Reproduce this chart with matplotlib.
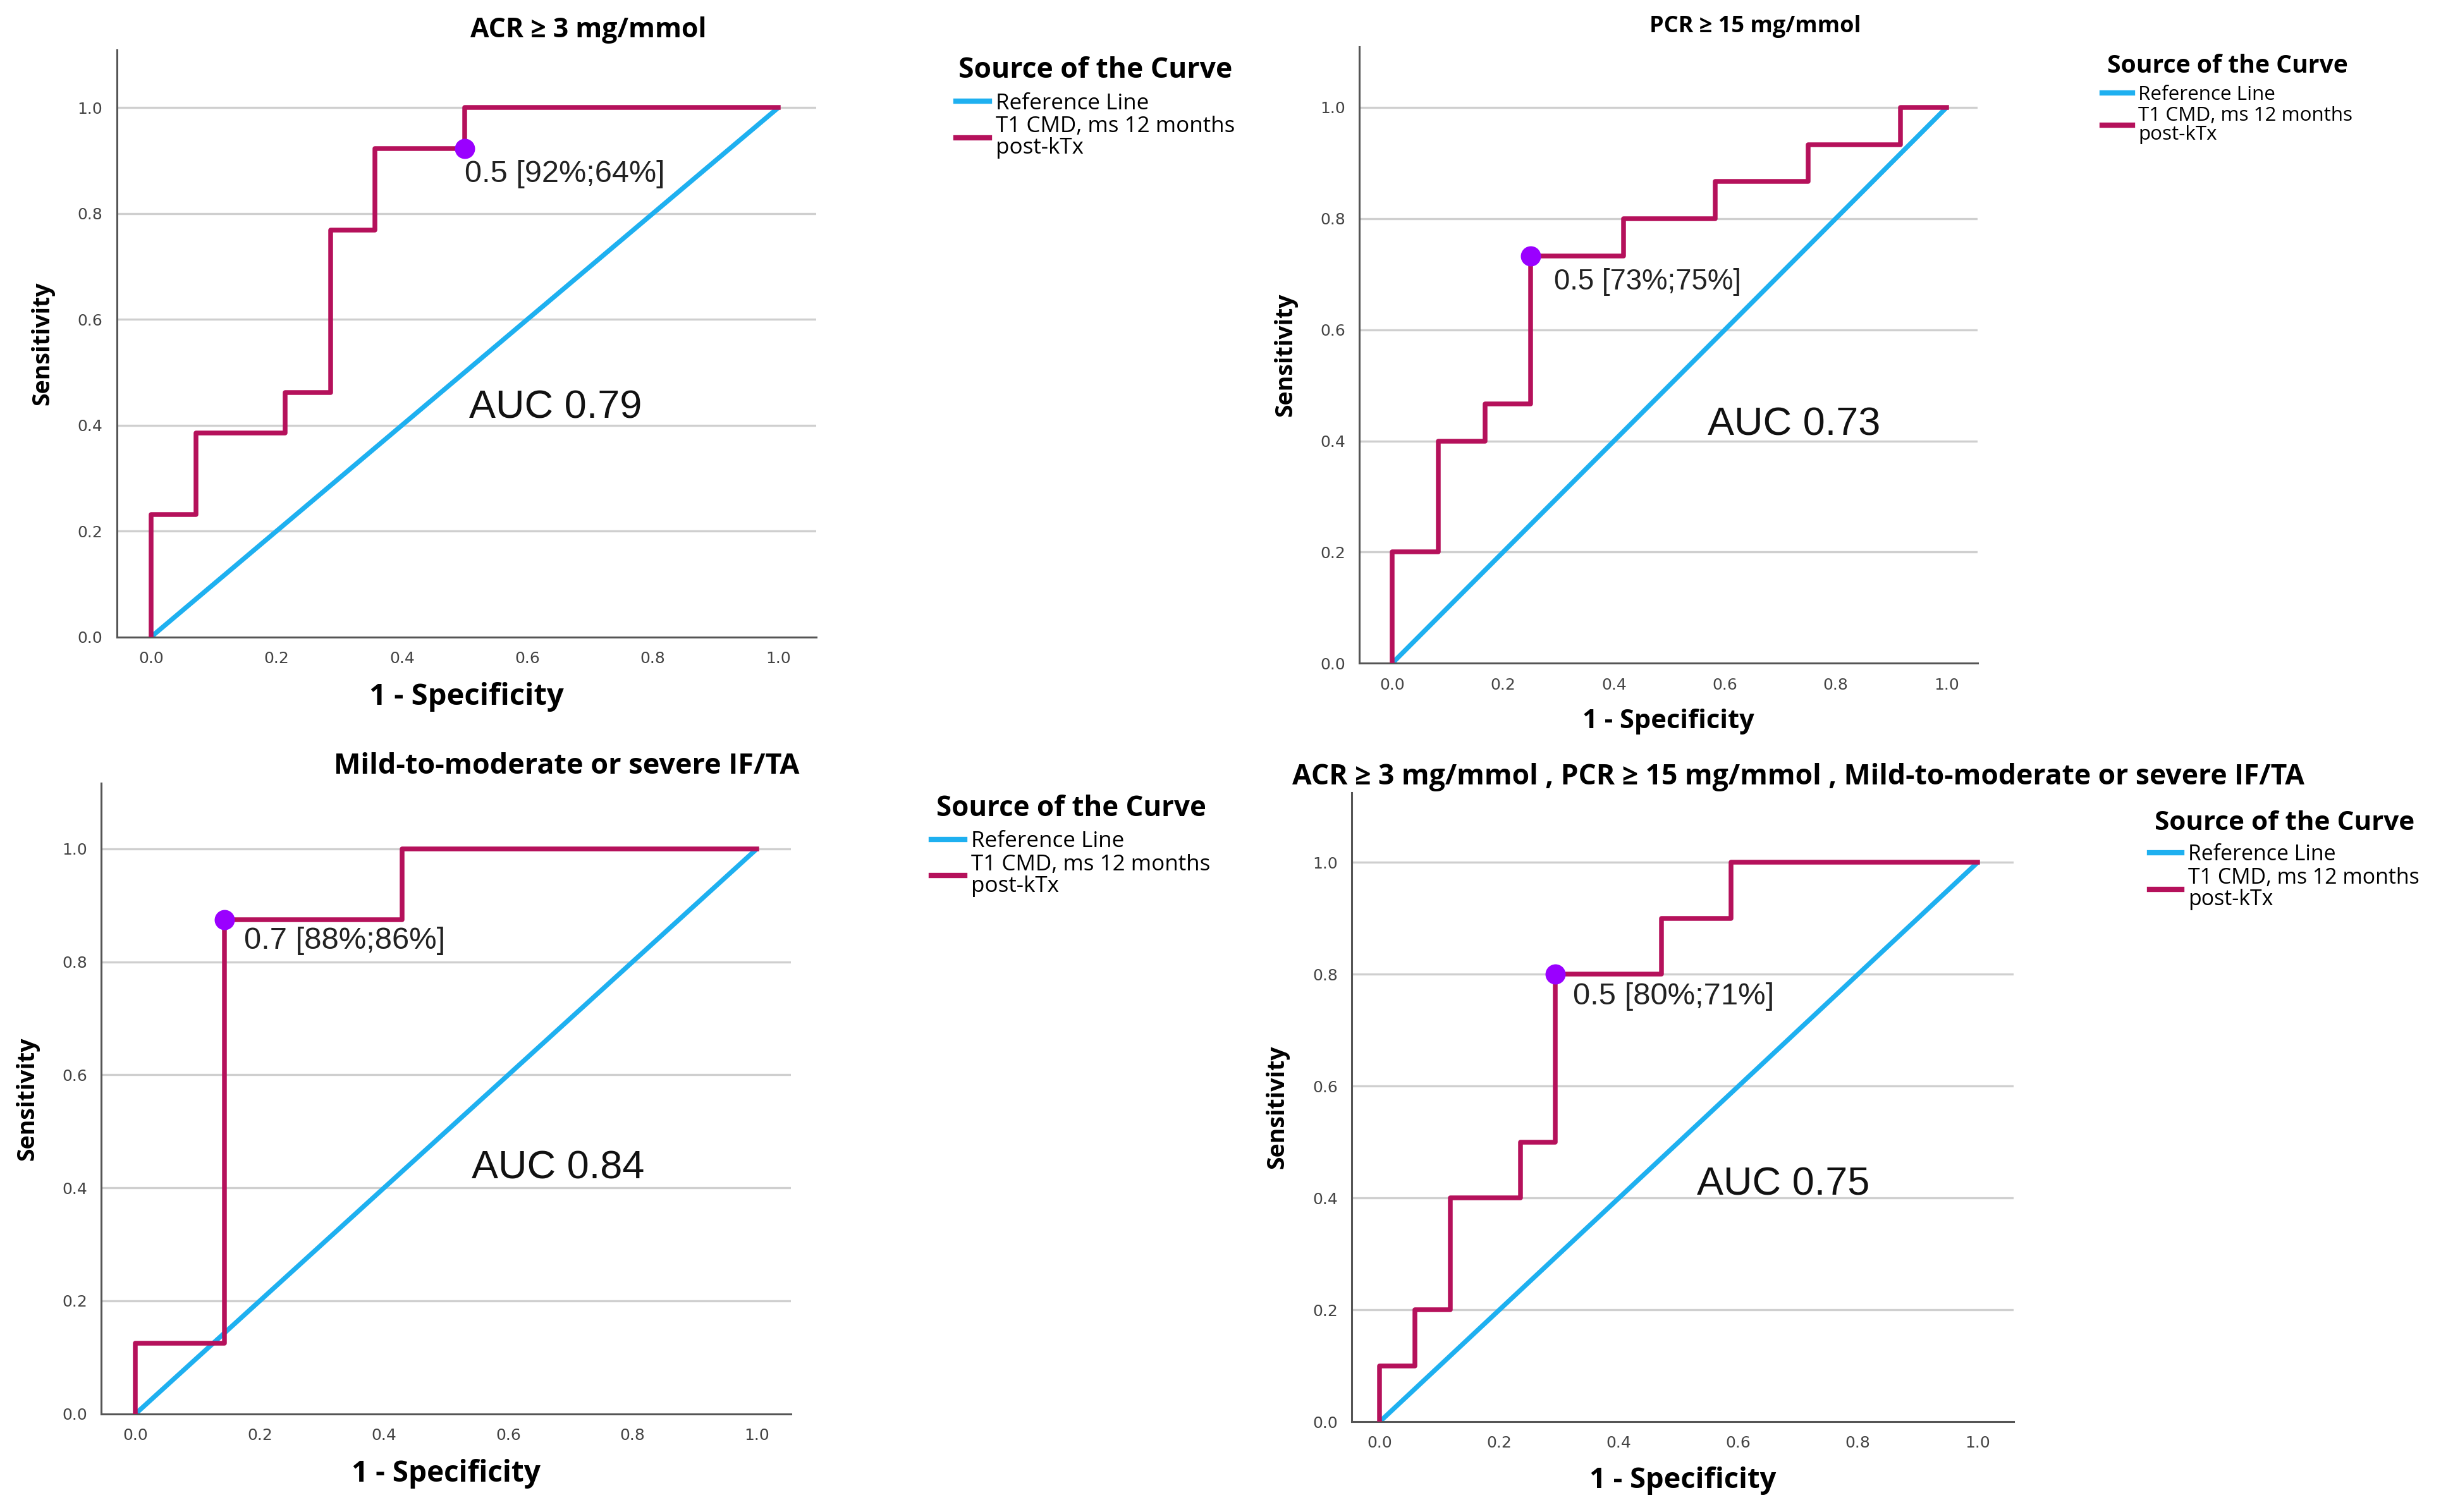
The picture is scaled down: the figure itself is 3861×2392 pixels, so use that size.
import numpy as np
import matplotlib.pyplot as plt
from matplotlib.lines import Line2D

# ---- data ----
titles = ["ACR \u2265 3 mg/mmol",
          "PCR \u2265 15 mg/mmol",
          "Mild-to-moderate or severe IF/TA",
          "ACR \u2265 3 mg/mmol , PCR \u2265 15 mg/mmol , Mild-to-moderate or severe IF/TA"]

fpr_acr = [0.0, 0.0, 0.071, 0.071, 0.214, 0.214, 0.286, 0.286, 0.357, 0.357, 0.5, 0.5, 1.0]
tpr_acr = [0.0, 0.231, 0.231, 0.385, 0.385, 0.462, 0.462, 0.769, 0.769, 0.923, 0.923, 1.0, 1.0]

fpr_pcr = [0.0, 0.0, 0.083, 0.083, 0.167, 0.167, 0.25, 0.25, 0.417, 0.417,
           0.583, 0.583, 0.75, 0.75, 0.917, 0.917, 1.0]
tpr_pcr = [0.0, 0.2, 0.2, 0.4, 0.4, 0.467, 0.467, 0.733, 0.733, 0.8,
           0.8, 0.867, 0.867, 0.933, 0.933, 1.0, 1.0]

fpr_ifta = [0.0, 0.0, 0.143, 0.143, 0.429, 0.429, 1.0]
tpr_ifta = [0.0, 0.125, 0.125, 0.875, 0.875, 1.0, 1.0]

fpr_comb = [0.0, 0.0, 0.059, 0.059, 0.118, 0.118, 0.235, 0.235, 0.294, 0.294,
            0.471, 0.471, 0.588, 0.588, 1.0]
tpr_comb = [0.0, 0.1, 0.1, 0.2, 0.2, 0.4, 0.4, 0.5, 0.5, 0.8,
            0.8, 0.9, 0.9, 1.0, 1.0]

cut_x = [0.5, 0.25, 0.143, 0.294]
cut_y = [0.923, 0.733, 0.875, 0.8]
cut_labels = ["0.5 [92%;64%]", "0.5 [73%;75%]", "0.7 [88%;86%]", "0.5 [80%;71%]"]
auc_labels = ["AUC 0.79", "AUC 0.73", "AUC 0.84", "AUC 0.75"]

fprs = [fpr_acr, fpr_pcr, fpr_ifta, fpr_comb]
tprs = [tpr_acr, tpr_pcr, tpr_ifta, tpr_comb]

# ---- layout (figure fractions) ----
ax_rects = [[0.0478, 0.5788, 0.2864, 0.3882],
            [0.5568, 0.5613, 0.2532, 0.4078],
            [0.0415, 0.0649, 0.2825, 0.4171],
            [0.5536, 0.0597, 0.2710, 0.4161]]
xlims = [(-0.055, 1.06), (-0.059, 1.056), (-0.055, 1.055), (-0.047, 1.06)]
ylims = [(0, 1.109), (0, 1.109), (0, 1.116), (0, 1.125)]
title_pos = [(0.241, 0.980), (0.719, 0.9825), (0.232, 0.4933), (0.7366, 0.486)]
legend_pos = [(0.387, 0.970), (0.857, 0.971), (0.377, 0.482), (0.876, 0.471)]
cut_text_pos = [(0.5, 0.874), (0.292, 0.686), (0.175, 0.837), (0.323, 0.76)]
auc_pos = [(0.645, 0.433), (0.725, 0.429), (0.68, 0.435), (0.675, 0.424)]

# per-panel font sizes (panel 2 is narrower in the original)
title_fs = [15.4, 13.0, 16.2, 16.0]
xlabel_fs = [17.0, 15.0, 16.5, 16.3]
leg_title_fs = [16.0, 14.1, 15.8, 15.2]
leg_fs = [12.6, 11.3, 12.6, 12.2]
cut_fs = [17.5, 16.4, 17.6, 17.6]

ROC_COLOR = '#B5115B'
REF_COLOR = '#1EB0F0'
DOT_COLOR = '#9A00FF'
SPSS_FONT = ['Open Sans', 'DejaVu Sans']

fig = plt.figure(figsize=(19.31, 11.96), dpi=200)

for i in range(4):
    ax = fig.add_axes(ax_rects[i])
    ax.set_xlim(*xlims[i])
    ax.set_ylim(*ylims[i])
    for s in ['top', 'right']:
        ax.spines[s].set_visible(False)
    for s in ['left', 'bottom']:
        ax.spines[s].set_color('#555555')
        ax.spines[s].set_linewidth(1.1)
    ax.set_yticks([0.0, 0.2, 0.4, 0.6, 0.8, 1.0])
    ax.set_xticks([0.0, 0.2, 0.4, 0.6, 0.8, 1.0])
    ax.set_xticklabels([f"{v:.1f}" for v in ax.get_xticks()])
    ax.set_yticklabels([f"{v:.1f}" for v in ax.get_yticks()])
    ax.tick_params(length=0, labelsize=9, labelcolor='#444444', pad=8)
    for y in [0.2, 0.4, 0.6, 0.8, 1.0]:
        ax.axhline(y, color='#CFCFCF', lw=1.2, zorder=0)

    ax.plot([0, 1], [0, 1], color=REF_COLOR, lw=2.7, label='Reference Line',
            solid_capstyle='butt', zorder=2)
    ax.plot(fprs[i], tprs[i], color=ROC_COLOR, lw=2.7,
            label='T1 CMD, ms 12 months\npost-kTx', zorder=3)
    ax.plot(cut_x[i], cut_y[i], 'o', color=DOT_COLOR, ms=10.5, zorder=4)

    ax.text(*cut_text_pos[i], cut_labels[i], fontsize=cut_fs[i], va='center', ha='left',
            family='Liberation Sans', color='#222222')
    ax.text(*auc_pos[i], auc_labels[i], fontsize=22.7, va='center', ha='center',
            family='Liberation Sans', color='#111111')

    ax.set_xlabel('1 - Specificity', fontsize=xlabel_fs[i], fontweight='bold',
                  family=SPSS_FONT, labelpad=9)
    ax.set_ylabel('Sensitivity', fontsize=13.5, fontweight='bold',
                  family=SPSS_FONT, labelpad=13)

    fig.text(*title_pos[i], titles[i], fontsize=title_fs[i], fontweight='bold',
             family=SPSS_FONT, ha='center', va='center')

    handles = [Line2D([], [], color=REF_COLOR, lw=3),
               Line2D([], [], color=ROC_COLOR, lw=3)]
    leg = fig.legend(handles, ['Reference Line', 'T1 CMD, ms 12 months\npost-kTx'],
                     loc='upper left', bbox_to_anchor=legend_pos[i],
                     frameon=False, title='Source of the Curve',
                     prop={'family': SPSS_FONT, 'size': leg_fs[i]},
                     title_fontproperties={'family': SPSS_FONT, 'size': leg_title_fs[i],
                                           'weight': 'bold'},
                     handlelength=1.5, handletextpad=0.3, borderpad=0,
                     labelspacing=0.08)
    for t in leg.get_texts():
        t.set_linespacing(1.0)
    # extra room between the legend title and its entries
    leg._legend_box.sep = 0.35 * leg_fs[i]

fig.savefig('out.png', dpi=200, facecolor='white')
